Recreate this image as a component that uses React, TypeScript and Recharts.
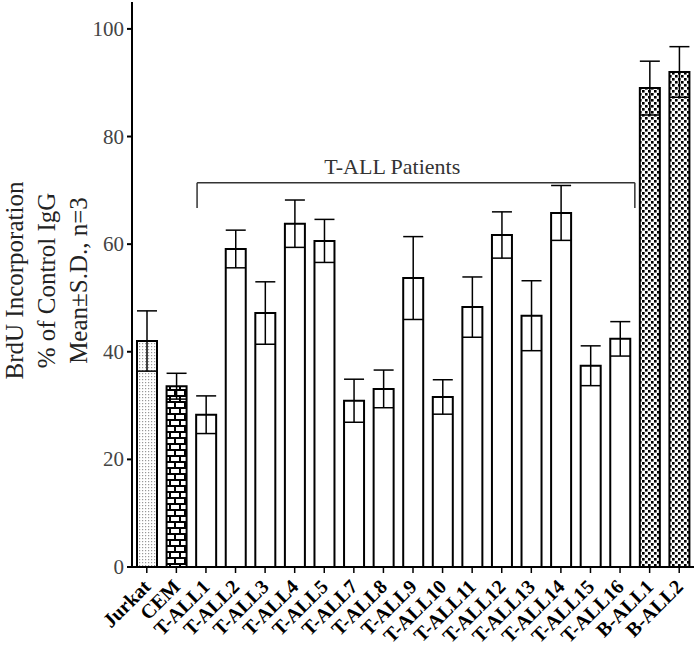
import React from 'react';
import { BarChart, Bar, XAxis, YAxis, ErrorBar, Cell, ReferenceLine, ReferenceDot } from 'recharts';

const categories = ['Jurkat', 'CEM', 'T-ALL1', 'T-ALL2', 'T-ALL3', 'T-ALL4', 'T-ALL5', 'T-ALL7', 'T-ALL8', 'T-ALL9', 'T-ALL10', 'T-ALL11', 'T-ALL12', 'T-ALL13', 'T-ALL14', 'T-ALL15', 'T-ALL16', 'B-ALL1', 'B-ALL2'];
const means = [42, 33.6, 28.3, 59.1, 47.2, 63.8, 60.6, 30.9, 33.1, 53.7, 31.6, 48.3, 61.7, 46.7, 65.8, 37.4, 42.4, 89, 92];
const sds = [5.6, 2.4, 3.5, 3.5, 5.8, 4.4, 4, 4, 3.5, 7.7, 3.2, 5.6, 4.3, 6.5, 5.1, 3.7, 3.2, 5, 4.7];
const fills = ['url(#dots)', 'url(#brick)', '#fff', '#fff', '#fff', '#fff', '#fff', '#fff', '#fff', '#fff', '#fff', '#fff', '#fff', '#fff', '#fff', '#fff', '#fff', 'url(#checker)', 'url(#checker)'];
const yTicks = [0, 20, 40, 60, 80, 100];
const yLabelLines = ['BrdU Incorporation', '% of Control IgG', 'Mean±S.D., n=3'];
const bracketLabel = 'T-ALL Patients';

const data = categories.map((name, i) => ({ name, mean: means[i], sd: sds[i], pos: i + 0.5 }));

const SERIF = '"Liberation Serif", "DejaVu Serif", serif';

const XTick = (props: any) => {
  const { x, y, payload } = props;
  const tx = x + 5;
  const ty = y + 13;
  return (
    <text x={tx} y={ty} transform={`rotate(-45, ${tx}, ${ty})`} textAnchor="end" fontFamily={SERIF} fontWeight="bold" fontSize={20} fill="#000">
      {payload.value}
    </text>
  );
};

const YTick = (props: any) => {
  const { x, y, payload } = props;
  return (
    <text x={x} y={y} dy={7} textAnchor="end" fontFamily={SERIF} fontSize={21} fill="#444">
      {payload.value}
    </text>
  );
};

const YLabel = (props: any) => {
  const vb = props.viewBox || { x: 0, y: 0, width: 0, height: 0 };
  const cy = vb.y + vb.height / 2 - 4;
  const xs = [23, 55, 87];
  return (
    <g>
      {yLabelLines.map((line, i) => (
        <text key={i} x={vb.x + xs[i]} y={cy} transform={`rotate(-90, ${vb.x + xs[i]}, ${cy})`} textAnchor="middle" fontFamily={SERIF} fontSize={25} fill="#222">
          {line}
        </text>
      ))}
    </g>
  );
};

const BracketLabel = (props: any) => {
  const vb = props.viewBox || { x: 0, y: 0 };
  const cx = vb.x + (vb.width || 0) / 2;
  const cy = vb.y + (vb.height || 0) / 2;
  return (
    <text x={cx} y={cy} dy={7} textAnchor="middle" fontFamily={SERIF} fontSize={22} fill="#333">
      {bracketLabel}
    </text>
  );
};

export default function App() {
  return (
    <div style={{ position: 'absolute', left: 0, top: 0, background: '#fff', fontFamily: SERIF }}>
      <BarChart width={700} height={649} data={data} margin={{ top: 2, right: 6, left: 0, bottom: 0 }}>
        <defs>
          <pattern id="dots" patternUnits="userSpaceOnUse" width={3} height={3}>
            <rect x={0} y={0} width={3} height={3} fill="#fff" />
            <rect x={1} y={1} width={1.2} height={1.2} fill="#999" />
          </pattern>
          <pattern id="brick" patternUnits="userSpaceOnUse" width={10} height={12}>
            <rect x={0} y={0} width={10} height={12} fill="#000" />
            <rect x={1} y={1} width={8} height={4} fill="#fff" />
            <rect x={-4} y={7} width={8} height={4} fill="#fff" />
            <rect x={6} y={7} width={8} height={4} fill="#fff" />
          </pattern>
          <pattern id="checker" patternUnits="userSpaceOnUse" width={6} height={6}>
            <rect x={0} y={0} width={6} height={6} fill="#fff" />
            <rect x={0} y={0} width={2.6} height={2.6} fill="#000" />
            <rect x={3} y={3} width={2.6} height={2.6} fill="#000" />
          </pattern>
        </defs>
        <XAxis
          dataKey="name"
          interval={0}
          height={82}
          tick={<XTick />}
          tickSize={6}
          tickMargin={2}
          axisLine={{ stroke: '#000', strokeWidth: 2 }}
          tickLine={{ stroke: '#000', strokeWidth: 1.5 }}
        />
        <XAxis
          xAxisId="num"
          dataKey="pos"
          type="number"
          domain={[0, 19]}
          allowDataOverflow={true}
          orientation="top"
          height={0}
          tick={false}
          tickLine={false}
          axisLine={{ stroke: '#555', strokeWidth: 1.5 }}
        />
        <YAxis
          width={132}
          domain={[0, 105]}
          allowDataOverflow={true}
          ticks={yTicks}
          tickSize={5}
          tickMargin={3}
          tick={<YTick />}
          axisLine={{ stroke: '#000', strokeWidth: 2 }}
          tickLine={{ stroke: '#000', strokeWidth: 2 }}
          label={<YLabel />}
        />
        <YAxis
          yAxisId="right"
          orientation="right"
          width={0}
          domain={[0, 105]}
          tick={false}
          tickLine={false}
          axisLine={{ stroke: '#555', strokeWidth: 1.5 }}
        />
        <Bar dataKey="mean" barSize={20} stroke="#000" strokeWidth={2} isAnimationActive={false}>
          {data.map((d, i) => (
            <Cell key={d.name} fill={fills[i]} />
          ))}
          <ErrorBar dataKey="sd" width={10} stroke="#000" strokeWidth={1.5} />
        </Bar>
        <ReferenceLine xAxisId="num" segment={[{ x: 2.2, y: 66.7 }, { x: 2.2, y: 71.4 }]} stroke="#333" strokeWidth={1.5} />
        <ReferenceLine xAxisId="num" segment={[{ x: 2.2, y: 71.4 }, { x: 17, y: 71.4 }]} stroke="#333" strokeWidth={1.5} />
        <ReferenceLine xAxisId="num" segment={[{ x: 17, y: 71.4 }, { x: 17, y: 66.7 }]} stroke="#333" strokeWidth={1.5} />
        <ReferenceDot xAxisId="num" x={8.8} y={74.3} r={0} fill="none" stroke="none" label={<BracketLabel />} />
      </BarChart>
    </div>
  );
}
